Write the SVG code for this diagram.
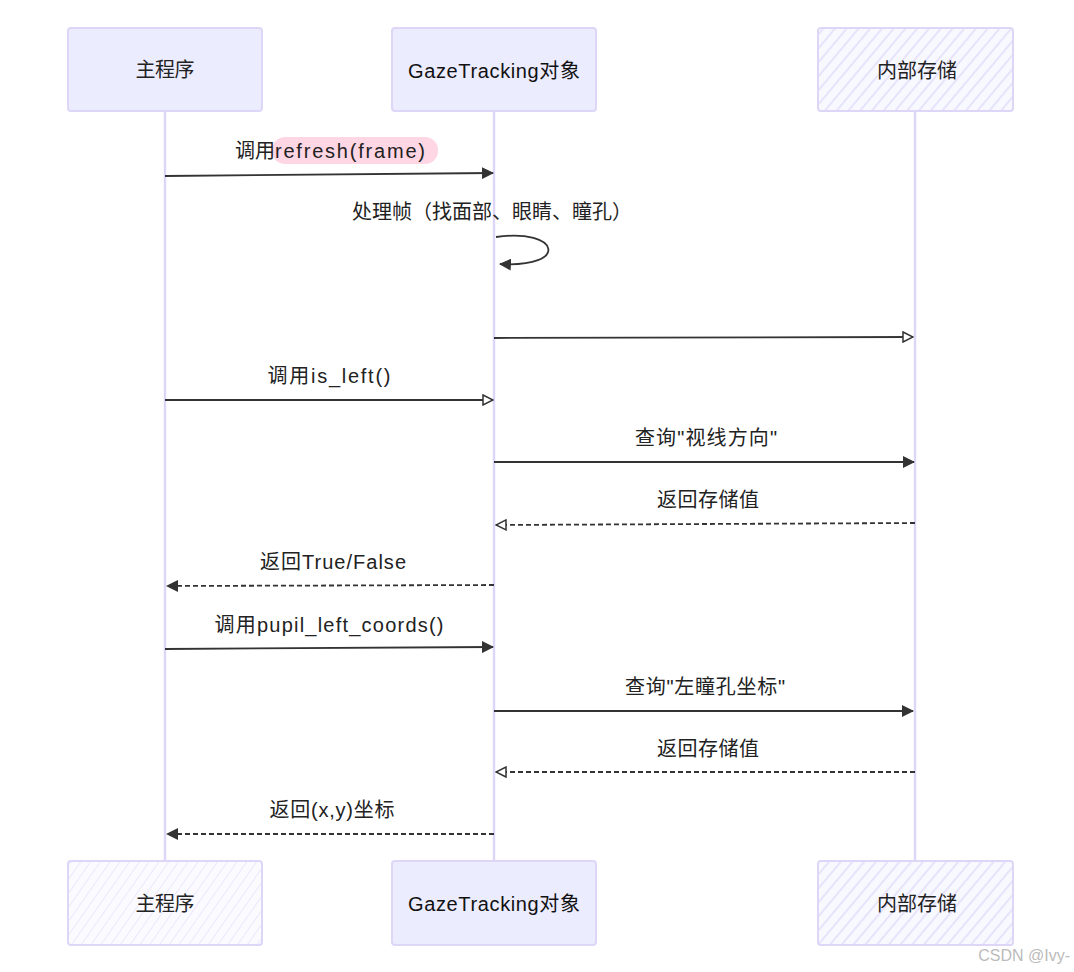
<svg xmlns="http://www.w3.org/2000/svg" width="1074" height="972" viewBox="0 0 1074 972">
<style>
.box{stroke:#ddd6f7;stroke-width:2}
.solid{fill:#ececff}
.hatch{fill:url(#hatch)}
.hatch2{fill:url(#hatch2)}
.life{stroke:#ddd6f7;stroke-width:2.5;fill:none}
.msg{stroke:#333;stroke-width:1.8;fill:none}
.dash{stroke-dasharray:5,3}
.t{font-family:"Liberation Sans","Noto Sans CJK SC",sans-serif;font-size:20px;fill:#222;text-anchor:middle}
.n{font-family:"Liberation Sans","Noto Sans CJK SC",sans-serif;font-size:20px;fill:#111;text-anchor:middle}
</style>
<defs>
<pattern id="hatch" width="9" height="9" patternUnits="userSpaceOnUse" patternTransform="rotate(40)">
<rect width="9" height="9" fill="#f8f8ff"/>
<line x1="0" y1="0" x2="0" y2="9" stroke="#e6e3fb" stroke-width="4"/>
</pattern>
<pattern id="hatch2" width="8" height="8" patternUnits="userSpaceOnUse" patternTransform="rotate(35)">
<rect width="8" height="8" fill="#fbfbff"/>
<line x1="0" y1="0" x2="0" y2="8" stroke="#ebe8fb" stroke-width="2"/>
</pattern>
<marker id="af" viewBox="0 0 12 12" refX="11" refY="6" markerWidth="12" markerHeight="12" markerUnits="userSpaceOnUse" orient="auto">
<path d="M0,0 L12,6 L0,12 z" fill="#333"/>
</marker>
<marker id="ao" viewBox="0 0 12 12" refX="11" refY="6" markerWidth="12" markerHeight="12" markerUnits="userSpaceOnUse" orient="auto">
<path d="M1,1 L11,6 L1,11 z" fill="#fff" stroke="#333" stroke-width="1.5"/>
</marker>
</defs>
<rect width="1074" height="972" fill="#fff"/>
<g id="lifelines">
<line class="life" x1="165" y1="111" x2="165" y2="861"/>
<line class="life" x1="494" y1="111" x2="494" y2="861"/>
<line class="life" x1="915" y1="111" x2="915" y2="861"/>
</g>
<g id="main-top"><rect class="box solid" x="68" y="28" width="194" height="83" rx="3"/><text class="t" x="165" y="77" textLength="59" lengthAdjust="spacing">主程序</text></g>
<g id="gaze-top"><rect class="box solid" x="392" y="28" width="204" height="83" rx="3"/><text class="n" x="494" y="78" textLength="172" lengthAdjust="spacing">GazeTracking对象</text></g>
<g id="store-top"><rect class="box hatch" x="818" y="28" width="195" height="83" rx="3"/><text class="t" x="917" y="78" textLength="80" lengthAdjust="spacing">内部存储</text></g>
<g id="main-bottom"><rect class="box hatch2" x="68" y="861" width="194" height="84" rx="3"/><text class="t" x="165" y="911" textLength="59" lengthAdjust="spacing">主程序</text></g>
<g id="gaze-bottom"><rect class="box solid" x="392" y="861" width="204" height="84" rx="3"/><text class="n" x="494" y="911" textLength="172" lengthAdjust="spacing">GazeTracking对象</text></g>
<g id="store-bottom"><rect class="box hatch" x="818" y="861" width="195" height="84" rx="3"/><text class="t" x="917" y="911" textLength="80" lengthAdjust="spacing">内部存储</text></g>
<g id="connectors">
<rect x="272" y="137" width="166" height="27" rx="13" fill="#ffd6e3"/>
<text class="t" x="235" y="158" style="text-anchor:start">调用<tspan x="275" textLength="150" lengthAdjust="spacing">refresh(frame)</tspan></text>
<line class="msg" x1="165" y1="176" x2="493" y2="173" marker-end="url(#af)"/>
<text class="t" x="492" y="219" textLength="280" lengthAdjust="spacing">处理帧（找面部、眼睛、瞳孔）</text>
<path class="msg" d="M496,237 C560,228 570,268 500,264" marker-end="url(#af)"/>
<line class="msg" x1="494" y1="338" x2="913" y2="337" marker-end="url(#ao)"/>
<text class="t" x="329" y="383" textLength="123" lengthAdjust="spacing">调用is_left()</text>
<line class="msg" x1="165" y1="400" x2="493" y2="400" marker-end="url(#ao)"/>
<text class="t" x="706" y="445" textLength="142" lengthAdjust="spacing">查询"视线方向"</text>
<line class="msg" x1="494" y1="462" x2="914" y2="462" marker-end="url(#af)"/>
<text class="t" x="708" y="507" textLength="102" lengthAdjust="spacing">返回存储值</text>
<line class="msg dash" x1="915" y1="523" x2="496" y2="525" marker-end="url(#ao)"/>
<text class="t" x="333" y="569" textLength="146" lengthAdjust="spacing">返回True/False</text>
<line class="msg dash" x1="494" y1="585" x2="167" y2="586" marker-end="url(#af)"/>
<text class="t" x="329" y="632" textLength="229" lengthAdjust="spacing">调用pupil_left_coords()</text>
<line class="msg" x1="165" y1="649" x2="493" y2="647" marker-end="url(#af)"/>
<text class="t" x="705" y="694" textLength="160" lengthAdjust="spacing">查询"左瞳孔坐标"</text>
<line class="msg" x1="494" y1="711" x2="913" y2="711" marker-end="url(#af)"/>
<text class="t" x="708" y="756" textLength="102" lengthAdjust="spacing">返回存储值</text>
<line class="msg dash" x1="915" y1="772" x2="496" y2="772" marker-end="url(#ao)"/>
<text class="t" x="332" y="817" textLength="125" lengthAdjust="spacing">返回(x,y)坐标</text>
<line class="msg dash" x1="494" y1="834" x2="167" y2="834" marker-end="url(#af)"/>
</g>
<text x="1070" y="961" font-family="Liberation Sans, sans-serif" font-size="16" fill="#bbb" text-anchor="end">CSDN @Ivy-</text>
</svg>
